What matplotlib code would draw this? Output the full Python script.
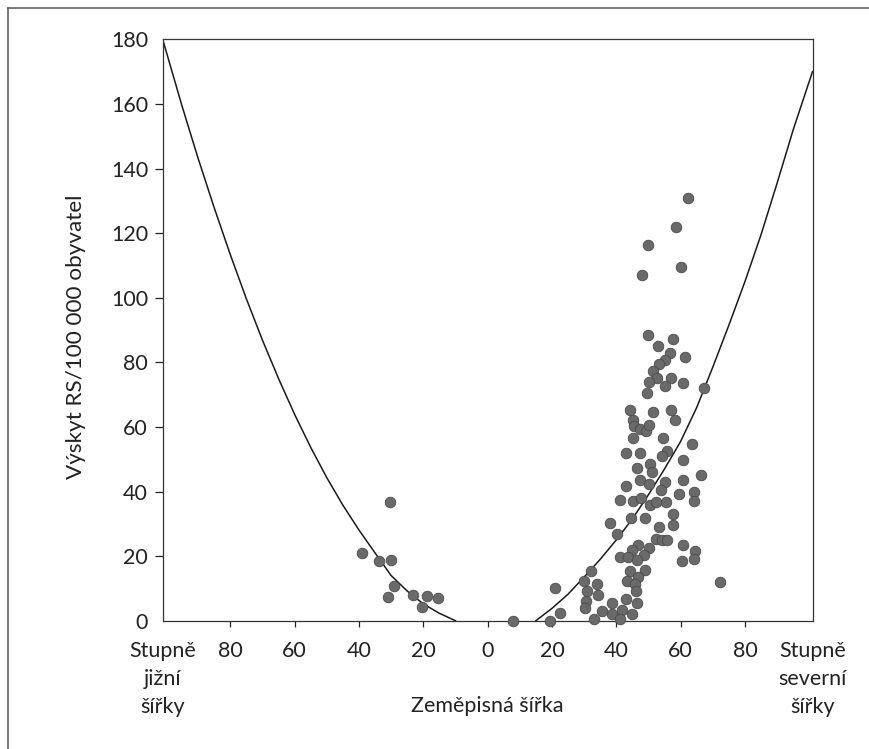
import matplotlib.pyplot as plt
from matplotlib.lines import Line2D

plt.rcParams['font.family'] = ['Lato', 'DejaVu Sans']

# southern hemisphere points (degrees south, rate)
south_lat = [39.0, 33.9, 30.1, 30.2, 29.0, 31.1, 23.2, 18.8, 15.5, 20.4]
south_rate = [21.1, 18.5, 18.8, 36.7, 10.8, 7.2, 8.0, 7.6, 6.9, 4.1]

# northern hemisphere points (degrees north, rate)
north_lat = [7.9, 62.3, 58.6, 49.8, 60.2, 47.9, 49.8, 57.6, 53.0, 56.7, 61.3,
             55.3, 53.2, 51.5, 52.7, 57.1, 50.1, 55.3, 60.7, 67.2, 49.6,
             44.2, 51.5, 56.9, 45.1, 58.2, 45.5, 47.5, 49.1, 50.2, 45.1,
             54.4, 63.6, 43.1, 47.5, 55.8, 54.3, 60.8, 46.5, 50.6, 51.2,
             66.4, 47.3, 50.1, 55.3, 60.8, 43.1, 54.0, 41.1, 45.2, 47.7,
             50.6, 52.5, 55.4, 59.5, 64.1, 64.1, 57.7, 44.7, 48.8, 38.2,
             57.7, 53.3, 40.1, 52.5, 54.3, 55.8, 60.8, 46.7, 45.0, 50.2,
             41.3, 43.6, 48.6, 46.3, 60.3, 64.4, 64.1, 32.0, 44.2, 48.8,
             46.8, 29.9, 34.1, 43.4, 45.7, 20.8, 30.9, 34.4, 46.0, 72.1,
             30.7, 38.7, 42.9, 46.3, 30.4, 35.6, 38.7, 41.8, 44.9, 22.4,
             19.3, 33.0, 41.1]
north_rate = [0.0, 130.9, 121.8, 116.3, 109.5, 107.1, 88.6, 87.2, 85.2, 82.8, 81.6,
              80.8, 79.4, 77.3, 75.0, 75.0, 74.0, 72.6, 73.6, 72.0, 70.5,
              65.3, 64.5, 65.3, 62.1, 62.1, 60.2, 59.2, 58.6, 60.7, 56.7,
              56.5, 54.6, 51.9, 51.9, 52.5, 51.1, 49.7, 47.2, 48.4, 46.1,
              45.2, 43.7, 42.3, 42.9, 43.5, 41.6, 40.6, 37.4, 37.0, 38.1,
              35.8, 36.7, 36.7, 39.1, 39.8, 37.0, 33.0, 31.8, 31.8, 30.4,
              29.5, 28.9, 26.8, 25.4, 24.9, 24.9, 23.5, 23.5, 21.9, 22.5,
              19.8, 19.8, 20.2, 18.8, 18.4, 21.7, 19.0, 15.5, 15.5, 15.8,
              13.4, 12.3, 11.4, 12.3, 11.4, 10.1, 9.1, 7.9, 9.1, 12.0,
              6.2, 5.6, 6.6, 5.4, 3.9, 2.9, 2.1, 3.3, 2.1, 2.4,
              0.0, 0.6, 0.6]

# trend curve
curve_s_x = [-101, -95, -90, -85, -80, -75, -70, -65, -60, -55, -50, -45,
             -40, -35, -30, -25, -20, -15, -10]
curve_s_y = [180, 159.4, 143.2, 127.9, 113.4, 99.7, 86.9, 75.0, 63.9, 53.7,
             44.3, 35.8, 28.1, 21.0, 14.0, 9.2, 5.2, 2.3, 0]
curve_n_x = [15, 20, 25, 30, 35, 40, 45, 50, 55, 60, 65, 70, 75, 80, 85, 90, 95, 101]
curve_n_y = [0, 3.8, 8.2, 13.5, 19.0, 25.0, 31.5, 39.0, 47.0, 55.5, 66.0,
             78.5, 91.5, 105.0, 119.5, 135.5, 152.0, 170.0]

x_ticks = [-101, -80, -60, -40, -20, 0, 20, 40, 60, 80, 101]
x_labels = ['Stupně\njižní\nšířky', '80', '60', '40', '20', '0', '20', '40',
            '60', '80', 'Stupně\nseverní\nšířky']
y_ticks = [0, 20, 40, 60, 80, 100, 120, 140, 160, 180]

fig = plt.figure(figsize=(8.69, 7.49), dpi=100)
ax = fig.add_axes([0.1872, 0.1713, 0.7478, 0.7762])

ax.plot(curve_s_x, curve_s_y, color='#1a1a1a', lw=1.1)
ax.plot(curve_n_x, curve_n_y, color='#1a1a1a', lw=1.1)

xs = [-v for v in south_lat] + north_lat
ys = south_rate + north_rate
ax.scatter(xs, ys, s=58, facecolor='#6a6a6a', edgecolor='#4a4a4a',
           linewidth=0.6, zorder=3, clip_on=False)

ax.set_xlim(-101, 101)
ax.set_ylim(0, 180)

ax.set_xticks(x_ticks)
ax.set_xticklabels(x_labels, linespacing=1.5)
ax.set_yticks(y_ticks)
ax.tick_params(axis='x', direction='out', length=4, width=0.9, pad=10.5,
               labelsize=15.5, colors='#222222')
ax.tick_params(axis='y', direction='out', length=5.5, width=0.9, pad=5,
               labelsize=15.5, colors='#222222')

# no tick marks at the axis corners
for t in (ax.xaxis.get_major_ticks()[0], ax.xaxis.get_major_ticks()[-1],
          ax.yaxis.get_major_ticks()[0], ax.yaxis.get_major_ticks()[-1]):
    t.tick1line.set_visible(False)

for sp in ax.spines.values():
    sp.set_color('#333333')
    sp.set_linewidth(0.9)

fig.text(487 / 869, 1 - 712 / 749, 'Zeměpisná šířka', ha='center',
         va='baseline', fontsize=15.5, color='#222222')
fig.text(76 / 869, 1 - 337 / 749, 'Výskyt RS/100 000 obyvatel', ha='center',
         va='center', rotation=90, fontsize=16.2, color='#222222')

# frame of the page (left and top edges)
fig.add_artist(Line2D([8 / 869, 8 / 869], [0, 1 - 7.5 / 749],
                      transform=fig.transFigure, color='#555555', lw=1.1))
fig.add_artist(Line2D([8 / 869, 1], [1 - 7.5 / 749, 1 - 7.5 / 749],
                      transform=fig.transFigure, color='#555555', lw=1.1))

fig.savefig('out.png', dpi=100)
